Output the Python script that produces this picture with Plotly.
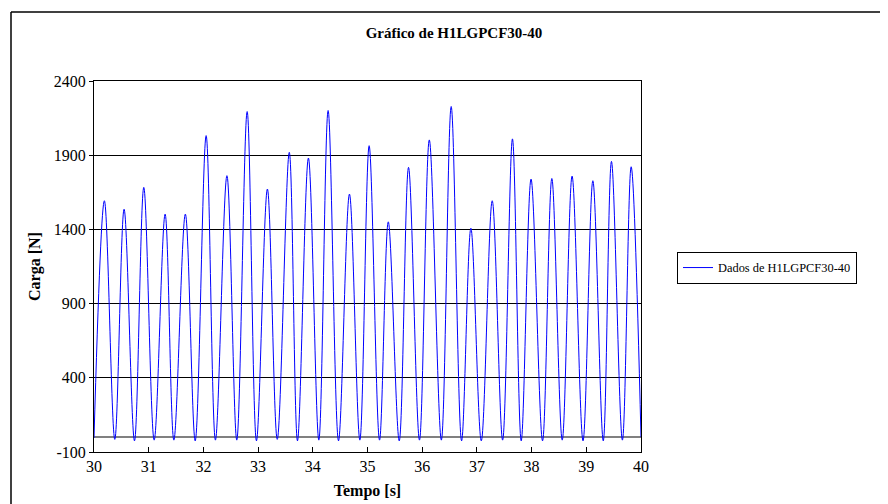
import plotly.graph_objects as go

# Turning points of the load signal (time in s, load in N)
tempo = [30.00, 30.19, 30.38, 30.55, 30.74, 30.91, 31.10, 31.30, 31.46, 31.67,
         31.85, 32.05, 32.22, 32.43, 32.61, 32.80, 32.97, 33.17, 33.35, 33.57,
         33.72, 33.92, 34.11, 34.28, 34.47, 34.67, 34.86, 35.03, 35.22, 35.38,
         35.58, 35.75, 35.95, 36.13, 36.35, 36.53, 36.72, 36.89, 37.08, 37.28,
         37.47, 37.65, 37.81, 37.99, 38.20, 38.37, 38.56, 38.74, 38.94, 39.12,
         39.31, 39.46, 39.66, 39.82, 40.00]
carga = [-5, 1593, -15, 1536, -25, 1683, -20, 1503, -20, 1503,
         -25, 2032, -20, 1762, -20, 2194, -25, 1672, -15, 1919,
         -25, 1881, -20, 2201, -25, 1638, -20, 1964, -20, 1451,
         -25, 1818, -20, 2003, -20, 2228, -25, 1408, -25, 1593,
         -20, 2010, -25, 1739, -25, 1743, -20, 1759, -25, 1728,
         -25, 1858, -20, 1822, 0]

x_ticks = list(range(30, 41))
y_ticks = [-100, 400, 900, 1400, 1900, 2400]

serif = "Liberation Serif, Times New Roman, serif"

fig = go.Figure()
fig.add_trace(go.Scatter(
    x=tempo, y=carga, mode="lines",
    line=dict(color="#0000FF", width=1, shape="spline", smoothing=1),
    name="Dados de H1LGPCF30-40",
))

# page body has an 8px margin; figure coordinates below are screen - 8
OFF = 8
W, H = 880, 496
L, R, T, B = 94 - OFF, 641 - OFF, 81 - OFF, 452 - OFF


def px(xs):
    return (xs - OFF - L) / (R - L)


def py(ys):
    return (B - (ys - OFF)) / (B - T)


fig.update_layout(
    width=W, height=H,
    margin=dict(l=L, r=W - R, t=T, b=H - B, autoexpand=False),
    paper_bgcolor="white", plot_bgcolor="white",
    font=dict(family=serif, size=16, color="black"),
    title=dict(text="<b>Gráfico de H1LGPCF30-40</b>", x=(454 - OFF) / W, xref="container",
               y=1 - (33 - OFF) / H, yref="container", xanchor="center", yanchor="middle",
               font=dict(family=serif, size=15, color="black")),
    showlegend=True,
    legend=dict(x=px(677), y=py(268), xanchor="left", yanchor="middle",
                bordercolor="black", borderwidth=1, bgcolor="white",
                font=dict(family=serif, size=12.4, color="black"),
                itemwidth=30),
    xaxis=dict(range=[30, 40], tickvals=x_ticks, ticktext=[str(v) for v in x_ticks],
               ticks="inside", ticklen=5, tickcolor="black", showgrid=False,
               zeroline=False, showline=True, linecolor="black", linewidth=1, mirror=True,
               title=dict(text="<b>Tempo [s]</b>", standoff=10,
                          font=dict(family=serif, size=16, color="black")),
               tickfont=dict(family=serif, size=16, color="black")),
    yaxis=dict(range=[-100, 2400], tickvals=y_ticks, ticktext=[str(v) for v in y_ticks],
               ticks="outside", ticklen=4, tickcolor="black", showgrid=True,
               gridcolor="black", gridwidth=1,
               zeroline=True, zerolinecolor="#808080", zerolinewidth=2,
               showline=True, linecolor="black", linewidth=1, mirror=True,
               title=dict(text="<b>Carga [N]</b>", standoff=9,
                          font=dict(family=serif, size=16, color="black")),
               tickfont=dict(family=serif, size=16, color="black")),
    shapes=[
        dict(type="line", xref="paper", yref="paper", x0=px(11), x1=px(11),
             y0=py(12), y1=py(506), line=dict(color="black", width=1.5)),
        dict(type="line", xref="paper", yref="paper", x0=px(11), x1=px(890),
             y0=py(12), y1=py(12), line=dict(color="black", width=1.5)),
    ],
)

fig.write_html("out.html")
